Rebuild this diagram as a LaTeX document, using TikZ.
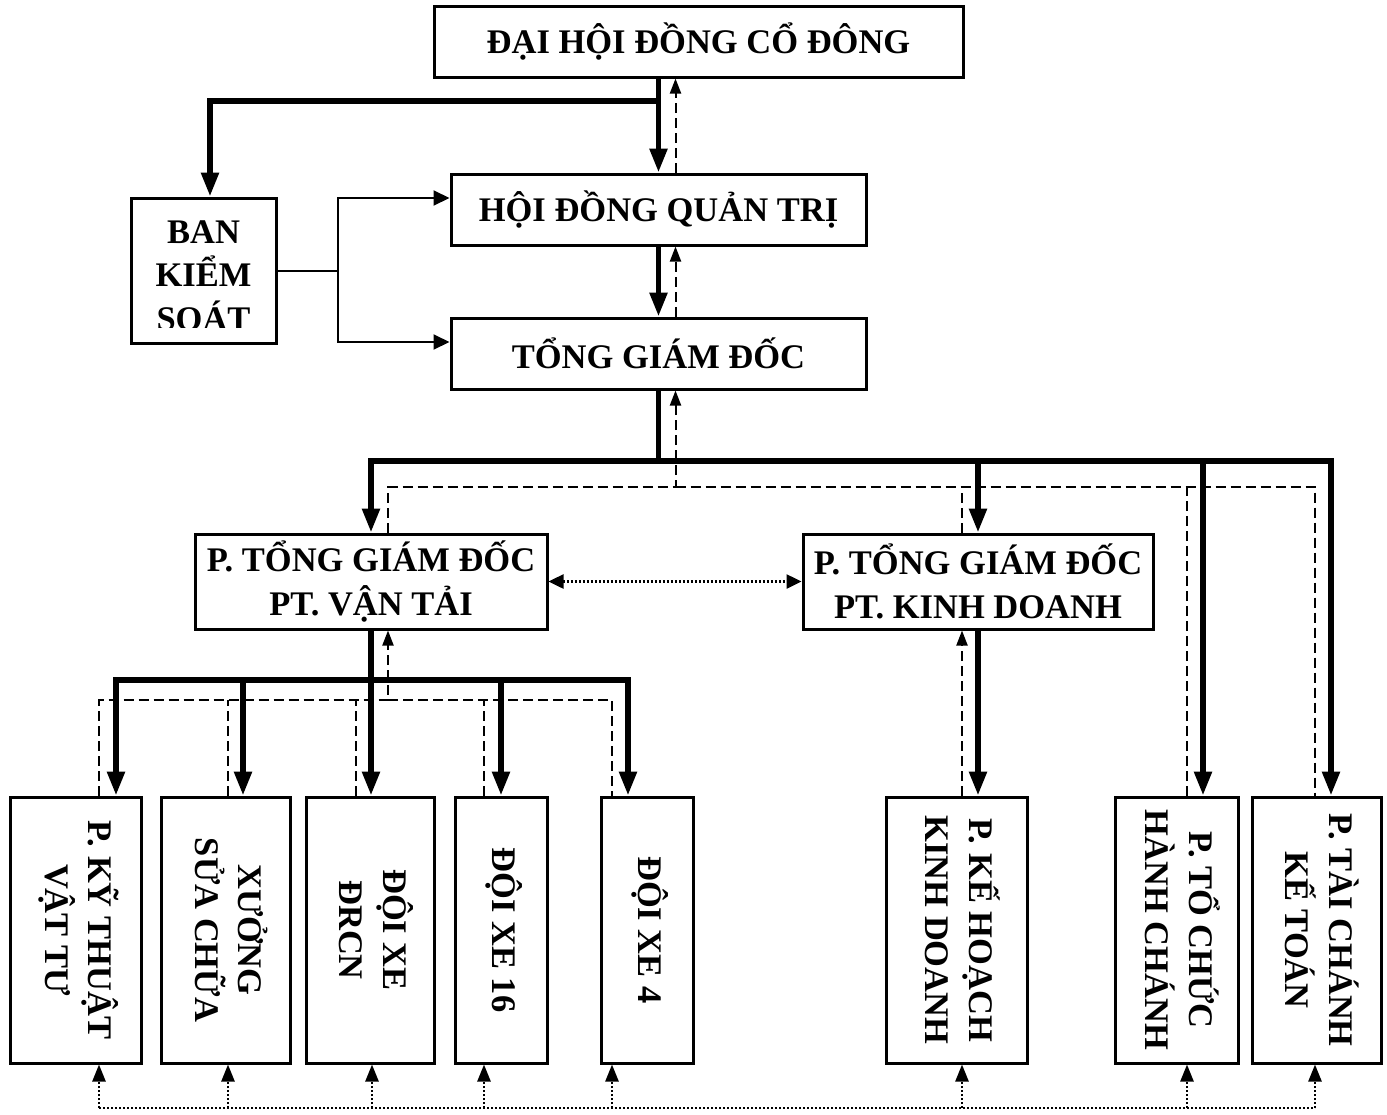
\documentclass[tikz,border=0pt]{standalone}
\usepackage{fontspec}
\setmainfont{Liberation Serif}
\usepackage{graphicx}
\usetikzlibrary{arrows.meta, calc}
\newcommand{\vlabel}[1]{\rotatebox{-90}{\begin{tabular}{@{}c@{}}#1\end{tabular}}}

\begin{document}
\begin{tikzpicture}[x=1pt, y=-1pt,
  box/.style={draw, line width=3pt, inner sep=0pt, align=center, font=\bfseries\fontsize{34.5}{43.5}\selectfont},
  lbl/.style={inner sep=0pt, align=center, font=\bfseries\fontsize{34.5}{43.5}\selectfont},
  heavy/.style={line width=5.5pt, -{Triangle[length=24pt,width=17pt]}},
  feed/.style={line width=2pt, dash pattern=on 10pt off 5pt},
  feedarr/.style={feed, -{Triangle[length=15pt,width=11pt]}},
  thinarr/.style={line width=2pt, -{Triangle[length=16pt,width=15pt]}},
  link/.style={line width=2.5pt, dash pattern=on 2pt off 2pt},
  linkarr/.style={link, -{Triangle[length=17pt,width=13pt]}}]
  \useasboundingbox (0,0) rectangle (1387,1114);

  % boxes
  \node[box, minimum width=529pt, minimum height=71pt] (dhdcd) at (698.5,41.5) {ĐẠI HỘI ĐỒNG CỔ ĐÔNG};
  \node[box, minimum width=415pt, minimum height=71pt] (hdqt) at (658.5,209.5) {HỘI ĐỒNG QUẢN TRỊ};
  \node[box, minimum width=415pt, minimum height=71pt] (tgd) at (658.5,353.5) {TỔNG GIÁM ĐỐC};
  \node[box, minimum width=145pt, minimum height=145pt] (bks) at (203.5,270.5) {};
  \node[box, minimum width=352pt, minimum height=95pt] (ptvt) at (371,581.5) {P. TỔNG GIÁM ĐỐC\\PT. VẬN TẢI};
  \node[box, minimum width=350pt, minimum height=95pt] (ptkd) at (978,581.5) {P. TỔNG GIÁM ĐỐC\\PT. KINH DOANH};
  \foreach \n/\x/\w/\t in {b1/75.5/131/{P. KỸ THUẬT\\VẬT TƯ}, b2/225.5/129/{XƯỞNG\\SỬA CHỮA},
      b3/370/128/{ĐỘI XE\\ĐRCN}, b4/501/92/{ĐỘI XE 16}, b5/647/92/{ĐỘI XE 4},
      b6/956.5/141/{P. KẾ HOẠCH\\KINH DOANH}, b7/1176.5/123/{P. TỔ CHỨC\\HÀNH CHÁNH},
      b8/1316.5/129/{P. TÀI CHÁNH\\KẾ TOÁN}}
    \node[box, minimum width=\w pt, minimum height=266pt] (\n) at (\x,930) {\vlabel{\t}};

  % ban kiem soat text, cut at the bottom
  \begin{scope}
    \clip ([xshift=-5pt]bks.north west) rectangle ([xshift=5pt]bks.east |- 0,327);
    \node[lbl] (bkstxt) at ([yshift=-5pt]bks.center) {BAN\\KIỂM\\SOÁT};
  \end{scope}

  % top
  \coordinate (jTop) at (hdqt.north |- 0,101);
  \draw[heavy] (hdqt.north |- dhdcd.south) -- (hdqt.north);
  \draw[heavy] (jTop) -| ([xshift=6.5pt]bks.north);
  \draw[feedarr] ([xshift=17pt]hdqt.north) -- ([xshift=17pt]hdqt.north |- dhdcd.south);
  \draw[heavy] (hdqt.south) -- (tgd.north);
  \draw[feedarr] ([xshift=17pt]tgd.north) -- ([xshift=17pt]hdqt.south);

  % ban kiem soat links
  \coordinate (jBks) at (338,0 |- bks.east);
  \draw[line width=2pt] (bks.east) -- (jBks);
  \draw[thinarr] (jBks) |- ([yshift=11.5pt]hdqt.west);
  \draw[thinarr] (jBks) |- ([yshift=11.5pt]tgd.west);

  % tong giam doc bus
  \coordinate (busL) at (ptvt.north |- 0,461);
  \coordinate (busR) at (1331,461);
  \draw[heavy] (tgd.south) -- (tgd.south |- busL) -- (busL) -- (ptvt.north);
  \draw[heavy] (tgd.south |- busL) -- (busR) -- (busR |- b8.north);
  \draw[heavy] (ptkd.north |- busL) -- (ptkd.north);
  \draw[heavy] ([xshift=26.5pt]b7.north |- busL) -- ([xshift=26.5pt]b7.north);

  % reports back
  \coordinate (fb) at ([xshift=17pt]tgd.south |- 0,487);
  \draw[feedarr] ([xshift=17pt]ptvt.north) |- (fb) -- ([xshift=17pt]tgd.south);
  \draw[feed] (fb) -| ([xshift=-1.5pt]b8.north);
  \draw[feed] ([xshift=-16pt]ptkd.north) -- ([xshift=-16pt]ptkd.north |- fb);
  \draw[feed] ([xshift=10.5pt]b7.north) -- ([xshift=10.5pt]b7.north |- fb);

  % van tai bus
  \coordinate (vt) at (ptvt.south |- 0,680);
  \draw[heavy] (ptvt.south) -- (ptvt.south |- b3.north);
  \draw[heavy] (vt) -| ([xshift=40.5pt]b1.north);
  \draw[heavy] (vt) -| ([xshift=-19pt]b5.north);
  \draw[heavy] ([xshift=17.5pt]b2.north |- vt) -- ([xshift=17.5pt]b2.north);
  \draw[heavy] (b4.north |- vt) -- (b4.north);

  \coordinate (fv) at ([xshift=17pt]ptvt.south |- 0,700);
  \draw[feedarr] ([xshift=23.5pt]b1.north) |- (fv) -- ([xshift=17pt]ptvt.south);
  \draw[feed] (fv) -| ([xshift=-35pt]b5.north);
  \foreach \bx/\dx in {b2/2.5, b3/-14, b4/-17}
    \draw[feed] ([xshift=\dx pt]\bx.north) -- ([xshift=\dx pt]\bx.north |- fv);

  % kinh doanh
  \draw[heavy] (ptkd.south) -- (ptkd.south |- b6.north);
  \draw[feedarr] ([xshift=-16pt]ptkd.south |- b6.north) -- ([xshift=-16pt]ptkd.south);

  % coordination
  \draw[link, {Triangle[length=15pt,width=14pt]}-{Triangle[length=15pt,width=14pt]}] (ptvt.east) -- (ptkd.west);
  \coordinate (lk) at (0,1108);
  \draw[link] ([xshift=23.5pt]b1.south |- lk) -- ([xshift=-1.5pt]b8.south |- lk);
  \foreach \bx/\dx in {b1/23.5, b2/2.5, b3/2, b4/-17, b5/-35, b6/5.5, b7/10.5, b8/-1.5}
    \draw[linkarr] ([xshift=\dx pt]\bx.south |- lk) -- ([xshift=\dx pt]\bx.south);
\end{tikzpicture}
\end{document}
